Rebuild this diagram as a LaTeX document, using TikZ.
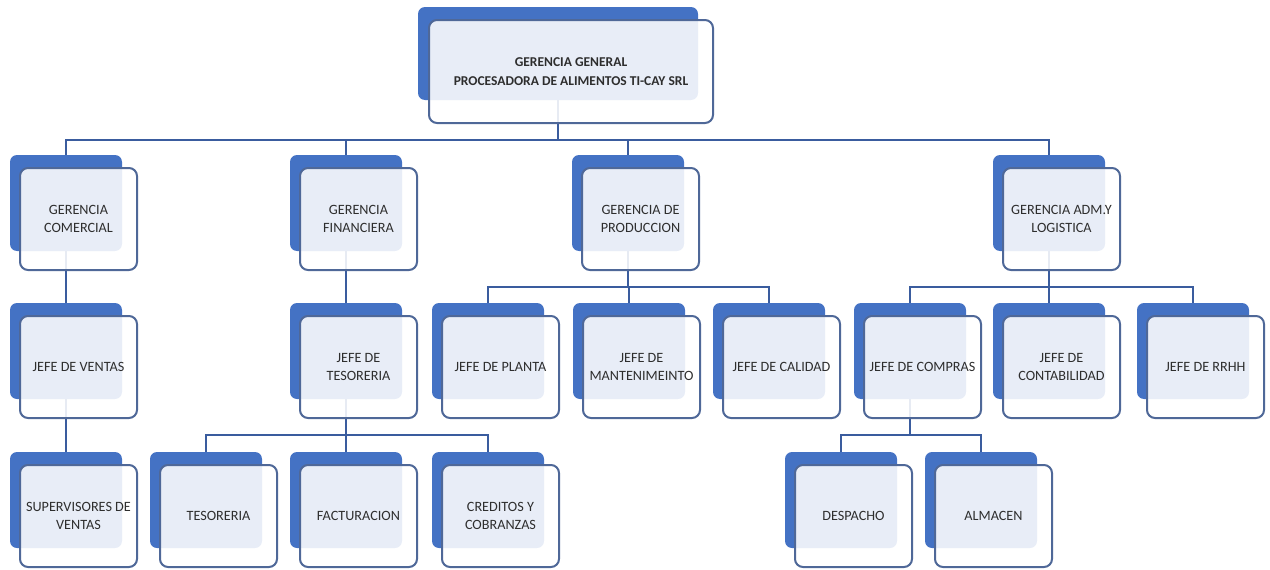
\documentclass[tikz,border=0pt]{standalone}
\usepackage{fontspec}
\setmainfont{Carlito}
\definecolor{backblue}{HTML}{4472C4}
\definecolor{frameblue}{HTML}{4F6898}
\definecolor{linkblue}{HTML}{3A5C9E}
\definecolor{txtgray}{HTML}{2E2E2E}
\tikzset{
  backbox/.style={fill=backblue, draw=none, rounded corners=7pt, inner sep=0pt,
    minimum width=112pt, minimum height=96pt},
  frontbox/.style={fill=white, fill opacity=0.88, text opacity=1, draw=frameblue,
    line width=2pt, rounded corners=8pt, inner sep=0pt,
    minimum width=117pt, minimum height=102pt, align=center,
    text=txtgray, font=\fontsize{14.2}{18.5}\selectfont},
  link/.style={draw=linkblue, line width=2.6pt},
}
% #1 name, #2 back left x, #3 back top y, #4 text
\newcommand\orgbox[4]{%
  \node[backbox] (#1b) at (#2+56,#3+48) {};
  \coordinate (#1f) at (#2+68.5,#3+64);
  \expandafter\gdef\csname obtext#1\endcsname{#4}%
}
\newcommand\orgfront[1]{%
  \node[frontbox] (#1) at (#1f) {\csname obtext#1\endcsname};
}
\begin{document}
\begin{tikzpicture}[x=1pt,y=-1pt]
\useasboundingbox (0,0) rectangle (1270,570);
% back boxes
\node[backbox, minimum width=280pt, minimum height=93pt] (ggb) at (558,53.5) {};
\orgbox{com}{10}{155}{GERENCIA\\COMERCIAL}
\orgbox{fin}{290}{155}{GERENCIA\\FINANCIERA}
\orgbox{pro}{572}{155}{GERENCIA DE\\PRODUCCION}
\orgbox{adm}{993}{155}{GERENCIA ADM.Y\\LOGISTICA}
\orgbox{ven}{10}{303}{JEFE DE VENTAS}
\orgbox{tes}{290}{303}{JEFE DE\\TESORERIA}
\orgbox{pla}{432}{303}{JEFE DE PLANTA}
\orgbox{man}{573}{303}{JEFE DE\\MANTENIMEINTO}
\orgbox{cal}{713}{303}{JEFE DE CALIDAD}
\orgbox{cmp}{854}{303}{JEFE DE COMPRAS}
\orgbox{con}{993}{303}{JEFE DE\\CONTABILIDAD}
\orgbox{rrh}{1137}{303}{JEFE DE RRHH}
\orgbox{sup}{10}{452}{SUPERVISORES DE\\VENTAS}
\orgbox{tso}{150}{452}{TESORERIA}
\orgbox{fac}{290}{452}{FACTURACION}
\orgbox{cre}{432}{452}{CREDITOS Y\\COBRANZAS}
\orgbox{des}{785}{452}{DESPACHO}
\orgbox{alm}{925}{452}{ALMACEN}
% connectors
\foreach \c in {comb,finb,prob,admb}
  {\draw[link] (ggb.south) -- (ggb.south |- 0,140) -| (\c.north);}
\draw[link] (comb.south) -- (venb.north);
\draw[link] (venb.south) -- (supb.north);
\draw[link] (finb.south) -- (tesb.north);
\foreach \c in {plab,manb,calb}
  {\draw[link] (prob.south) -- (prob.south |- 0,287) -| (\c.north);}
\foreach \c in {cmpb,conb,rrhb}
  {\draw[link] (admb.south) -- (admb.south |- 0,287) -| (\c.north);}
\foreach \c in {tsob,facb,creb}
  {\draw[link] (tesb.south) -- (tesb.south |- 0,435) -| (\c.north);}
\foreach \c in {desb,almb}
  {\draw[link] (cmpb.south) -- (cmpb.south |- 0,435) -| (\c.north);}
% front boxes
\node[frontbox, minimum width=284pt, minimum height=103pt,
  font=\bfseries\fontsize{13.5}{19}\selectfont] (gg) at (571,71.5)
  {GERENCIA GENERAL\\PROCESADORA DE ALIMENTOS TI-CAY SRL};
\foreach \n in {com,fin,pro,adm,ven,tes,pla,man,cal,cmp,con,rrh,sup,tso,fac,cre,des,alm}
  {\orgfront{\n}}
\end{tikzpicture}
\end{document}
